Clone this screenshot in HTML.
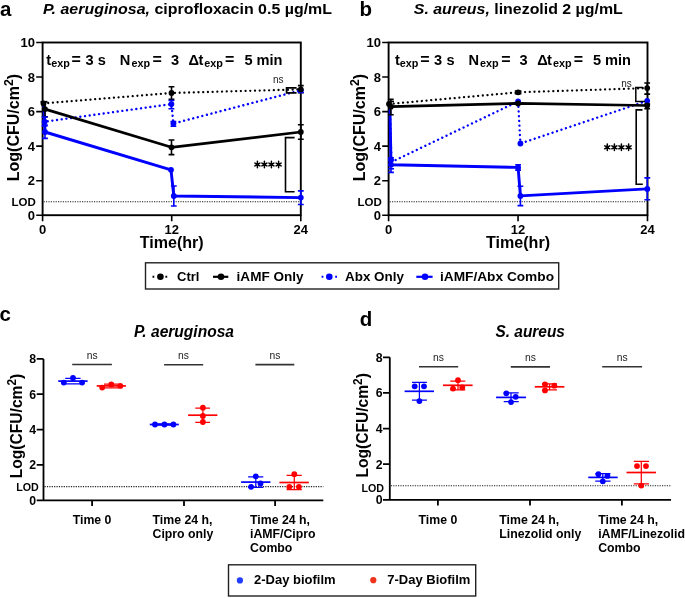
<!DOCTYPE html>
<html><head><meta charset="utf-8">
<style>
html,body{margin:0;padding:0;background:#fff;}
body{width:685px;height:598px;overflow:hidden;position:relative;}
svg{position:absolute;left:0;top:0;will-change:transform;}
text{font-family:"Liberation Sans",sans-serif;white-space:pre;}
.b{font-weight:bold;}
.bi{font-weight:bold;font-style:italic;}
</style></head><body>
<svg width="685" height="598" viewBox="0 0 685 598">
<text id="a_lbl" x="0" y="16.2" class="b" font-size="20.5">a</text>
<text id="a_title" x="43" y="14" class="b" font-size="15.2" textLength="289" lengthAdjust="spacingAndGlyphs"><tspan font-style="italic">P. aeruginosa,</tspan> ciprofloxacin 0.5 µg/mL</text>
<rect x="42.6" y="42.5" width="258.2" height="172.7" fill="none" stroke="#000" stroke-width="1.9"/>
<path d="M36.2,215.2H42.6M36.2,180.7H42.6M36.2,146.1H42.6M36.2,111.6H42.6M36.2,77.0H42.6M36.2,42.5H42.6M42.6,215.2V221.2M171.70000000000002,215.2V221.2M300.8,215.2V221.2" stroke="#000" stroke-width="1.6" fill="none"/>
<text id="a_y10" x="35" y="47.1" class="b" font-size="13" text-anchor="end">10</text>
<text id="a_y8" x="35" y="81.6" class="b" font-size="13" text-anchor="end">8</text>
<text id="a_y6" x="35" y="116.2" class="b" font-size="13" text-anchor="end">6</text>
<text id="a_y4" x="35" y="150.7" class="b" font-size="13" text-anchor="end">4</text>
<text id="a_y2" x="35" y="185.3" class="b" font-size="13" text-anchor="end">2</text>
<text id="a_y0" x="35" y="219.8" class="b" font-size="13" text-anchor="end">0</text>
<text id="a_x0" x="42.6" y="234.4" class="b" font-size="13" text-anchor="middle">0</text>
<text id="a_x12" x="171.7" y="234.4" class="b" font-size="13" text-anchor="middle">12</text>
<text id="a_x24" x="300.8" y="234.4" class="b" font-size="13" text-anchor="middle">24</text>
<text id="a_xt" x="171.7" y="247.6" class="b" font-size="16.3" text-anchor="middle" textLength="64" lengthAdjust="spacingAndGlyphs">Time(hr)</text>
<text id="a_yt" transform="translate(18.8,181.3) rotate(-90)" class="b" font-size="16.5" textLength="107.3" lengthAdjust="spacingAndGlyphs">Log(CFU/cm<tspan font-size="12.5" dy="-5.7">2</tspan><tspan dy="5.7">)</tspan></text>
<text id="a_lod" x="35.8" y="206" class="b" font-size="11.5" text-anchor="end">LOD</text>
<line x1="43.6" y1="201.8" x2="299.8" y2="201.8" stroke="#222" stroke-width="1.1" stroke-dasharray="1.2 1.2"/>
<text id="a_t1" x="46.3" y="64.7" class="b" font-size="14.6">t</text>
<text id="a_e1" x="51.2" y="67.3" class="b" font-size="10.8">exp</text>
<text id="a_q1" x="71.6" y="64.7" class="b" font-size="16">=</text>
<text id="a_n3" x="85.5" y="64.7" class="b" font-size="14.6">3</text>
<text id="a_s" x="97.8" y="64.7" class="b" font-size="14.6">s</text>
<text id="a_N" x="119.8" y="64.7" class="b" font-size="14.6">N</text>
<text id="a_e2" x="131.4" y="67.3" class="b" font-size="10.8">exp</text>
<text id="a_q2" x="152.6" y="64.7" class="b" font-size="16">=</text>
<text id="a_n3b" x="170.9" y="64.7" class="b" font-size="14.6">3</text>
<text id="a_D" x="188.6" y="64.7" class="b" font-size="14.6">Δ</text>
<text id="a_t2" x="198.5" y="64.7" class="b" font-size="14.6">t</text>
<text id="a_e3" x="204.3" y="67.3" class="b" font-size="10.8">exp</text>
<text id="a_q3" x="225.1" y="64.7" class="b" font-size="16">=</text>
<text id="a_n5" x="244.4" y="64.7" class="b" font-size="14.6">5</text>
<text id="a_min" x="256.5" y="64.7" class="b" font-size="14.6">min</text>
<polyline points="43.5,103.4 171.5,93 300.8,89.4" fill="none" stroke="#000" stroke-width="2.3" stroke-dasharray="0.01 4.7" stroke-linecap="round" stroke-linejoin="round"/>
<polyline points="44,106 44.6,121.7 171.4,104.1 173.4,123.5 300.8,90.3" fill="none" stroke="#0000ff" stroke-width="2.4" stroke-dasharray="0.01 4.7" stroke-linecap="round" stroke-linejoin="round"/>
<polyline points="45,109.1 171.5,147.3 300.8,132" fill="none" stroke="#000" stroke-width="2.7" stroke-linejoin="round"/>
<polyline points="44,106 45,132 171,169.8 173.8,196 300.8,197.6" fill="none" stroke="#0000ff" stroke-width="2.9" stroke-linejoin="round"/>
<path d="M171.5,86.7V99.4M168.6,86.7H174.4M168.6,99.4H174.4" stroke="#000" stroke-width="1.6" fill="none"/>
<path d="M45,103V116.7M42.1,116.7H47.9" stroke="#000" stroke-width="1.6" fill="none"/>
<path d="M171.5,140V154.6M168.6,140H174.4M168.6,154.6H174.4" stroke="#000" stroke-width="1.6" fill="none"/>
<path d="M300.8,124.8V139.2M297.90000000000003,124.8H303.7M297.90000000000003,139.2H303.7" stroke="#000" stroke-width="1.6" fill="none"/>
<path d="M300.8,85.6V92.8M297.90000000000003,85.6H303.7M297.90000000000003,92.8H303.7" stroke="#000" stroke-width="1.6" fill="none"/>
<path d="M40.5,101.8H47.5" stroke="#000" stroke-width="1.8"/>
<path d="M44.6,117.1V125.9M41.7,117.1H47.5M41.7,125.9H47.5" stroke="#0000ff" stroke-width="1.6" fill="none"/>
<path d="M45,125V138.4M42.1,125H47.9M42.1,138.4H47.9" stroke="#0000ff" stroke-width="1.6" fill="none"/>
<path d="M171.4,100.5V108.8M168.5,100.5H174.3M168.5,108.8H174.3" stroke="#0000ff" stroke-width="1.6" fill="none"/>
<path d="M173.4,121.5V126.2M170.5,121.5H176.3M170.5,126.2H176.3" stroke="#0000ff" stroke-width="1.6" fill="none"/>
<path d="M173.8,186V206M170.9,186H176.70000000000002M170.9,206H176.70000000000002" stroke="#0000ff" stroke-width="1.6" fill="none"/>
<path d="M300.8,190.9V204.5M297.90000000000003,190.9H303.7M297.90000000000003,204.5H303.7" stroke="#0000ff" stroke-width="1.6" fill="none"/>
<path d="M300.8,88.5V92.5M297.90000000000003,92.5H303.7" stroke="#0000ff" stroke-width="1.6" fill="none"/>
<circle cx="44.6" cy="121.7" r="2.9" fill="#0000ff"/><circle cx="171.4" cy="104.1" r="2.9" fill="#0000ff"/><circle cx="173.4" cy="123.5" r="2.9" fill="#0000ff"/><circle cx="300.8" cy="90.3" r="2.9" fill="#0000ff"/><circle cx="45" cy="132" r="2.9" fill="#0000ff"/><circle cx="171" cy="169.8" r="2.9" fill="#0000ff"/><circle cx="173.8" cy="196" r="2.9" fill="#0000ff"/><circle cx="300.8" cy="197.6" r="2.9" fill="#0000ff"/>
<circle cx="43.5" cy="103.4" r="2.9" fill="#000"/><circle cx="171.5" cy="93" r="2.9" fill="#000"/><circle cx="300.8" cy="89.4" r="2.9" fill="#000"/><circle cx="45" cy="109.1" r="2.9" fill="#000"/><circle cx="171.5" cy="147.3" r="2.9" fill="#000"/><circle cx="300.8" cy="132" r="2.9" fill="#000"/>
<path d="M296.6,87.8H286.6V92.8H296.6" fill="none" stroke="#000" stroke-width="1.8"/>
<text id="a_ns" x="278.3" y="82.8" font-size="10" text-anchor="middle" fill="#222">ns</text>
<path d="M294.6,137.6H285.5V191.8H294.6" fill="none" stroke="#000" stroke-width="1.6"/>
<path d="M257.4,161.30V167.70M254.89,163.05L259.91,165.95M254.89,165.95L259.91,163.05M264.4,161.30V167.70M261.89,163.05L266.91,165.95M261.89,165.95L266.91,163.05M271.4,161.30V167.70M268.89,163.05L273.91,165.95M268.89,165.95L273.91,163.05M278.6,161.30V167.70M276.09,163.05L281.11,165.95M276.09,165.95L281.11,163.05" stroke="#000" stroke-width="1.5" fill="none" stroke-linecap="round"/>
<circle cx="257.4" cy="164.5" r="1.7" fill="#000"/><circle cx="264.4" cy="164.5" r="1.7" fill="#000"/><circle cx="271.4" cy="164.5" r="1.7" fill="#000"/><circle cx="278.6" cy="164.5" r="1.7" fill="#000"/>
<text id="b_lbl" x="359.5" y="16.2" class="b" font-size="20.5">b</text>
<text id="b_title" x="413.8" y="14" class="b" font-size="15.2" textLength="209" lengthAdjust="spacingAndGlyphs"><tspan font-style="italic">S. aureus,</tspan> linezolid 2 µg/mL</text>
<rect x="388.6" y="42.5" width="258.9" height="172.7" fill="none" stroke="#000" stroke-width="1.9"/>
<path d="M382.20000000000005,215.2H388.6M382.20000000000005,180.7H388.6M382.20000000000005,146.1H388.6M382.20000000000005,111.6H388.6M382.20000000000005,77.0H388.6M382.20000000000005,42.5H388.6M388.6,215.2V221.2M518.05,215.2V221.2M647.5,215.2V221.2" stroke="#000" stroke-width="1.6" fill="none"/>
<text id="b_y10" x="381" y="47.1" class="b" font-size="13" text-anchor="end">10</text>
<text id="b_y8" x="381" y="81.6" class="b" font-size="13" text-anchor="end">8</text>
<text id="b_y6" x="381" y="116.2" class="b" font-size="13" text-anchor="end">6</text>
<text id="b_y4" x="381" y="150.7" class="b" font-size="13" text-anchor="end">4</text>
<text id="b_y2" x="381" y="185.3" class="b" font-size="13" text-anchor="end">2</text>
<text id="b_y0" x="381" y="219.8" class="b" font-size="13" text-anchor="end">0</text>
<text id="b_x0" x="388.6" y="234.4" class="b" font-size="13" text-anchor="middle">0</text>
<text id="b_x12" x="518.0" y="234.4" class="b" font-size="13" text-anchor="middle">12</text>
<text id="b_x24" x="647.5" y="234.4" class="b" font-size="13" text-anchor="middle">24</text>
<text id="b_xt" x="518.0" y="247.6" class="b" font-size="16.3" text-anchor="middle" textLength="64" lengthAdjust="spacingAndGlyphs">Time(hr)</text>
<text id="b_yt" transform="translate(364.9,181.3) rotate(-90)" class="b" font-size="16.5" textLength="107.3" lengthAdjust="spacingAndGlyphs">Log(CFU/cm<tspan font-size="12.5" dy="-5.7">2</tspan><tspan dy="5.7">)</tspan></text>
<text id="b_lod" x="381.8" y="206" class="b" font-size="11.5" text-anchor="end">LOD</text>
<line x1="389.6" y1="201.8" x2="646.5" y2="201.8" stroke="#222" stroke-width="1.1" stroke-dasharray="1.2 1.2"/>
<text id="b_t1" x="394.9" y="64.7" class="b" font-size="14.6">t</text>
<text id="b_e1" x="399.8" y="67.3" class="b" font-size="10.8">exp</text>
<text id="b_q1" x="420.2" y="64.7" class="b" font-size="16">=</text>
<text id="b_n3" x="434.1" y="64.7" class="b" font-size="14.6">3</text>
<text id="b_s" x="446.4" y="64.7" class="b" font-size="14.6">s</text>
<text id="b_N" x="468.4" y="64.7" class="b" font-size="14.6">N</text>
<text id="b_e2" x="480.0" y="67.3" class="b" font-size="10.8">exp</text>
<text id="b_q2" x="501.2" y="64.7" class="b" font-size="16">=</text>
<text id="b_n3b" x="519.5" y="64.7" class="b" font-size="14.6">3</text>
<text id="b_D" x="537.2" y="64.7" class="b" font-size="14.6">Δ</text>
<text id="b_t2" x="547.1" y="64.7" class="b" font-size="14.6">t</text>
<text id="b_e3" x="552.9" y="67.3" class="b" font-size="10.8">exp</text>
<text id="b_q3" x="573.7" y="64.7" class="b" font-size="16">=</text>
<text id="b_n5" x="593.0" y="64.7" class="b" font-size="14.6">5</text>
<text id="b_min" x="605.1" y="64.7" class="b" font-size="14.6">min</text>
<polyline points="390,110 391.5,162 518.1,101.4 520.4,143.5 647.2,100.8" fill="none" stroke="#0000ff" stroke-width="2.4" stroke-dasharray="0.01 4.7" stroke-linecap="round" stroke-linejoin="round"/>
<polyline points="390,110 391,164.7 518.1,167.4 520.4,195.9 647.3,188.9" fill="none" stroke="#0000ff" stroke-width="2.9" stroke-linejoin="round"/>
<path d="M391,157.7V160M388.1,157.7H393.9M388.1,160H393.9" stroke="#0000ff" stroke-width="1.6" fill="none"/>
<path d="M391,160V172.4M388.1,172.4H393.9" stroke="#0000ff" stroke-width="1.6" fill="none"/>
<path d="M388.2,168.8H394" stroke="#0000ff" stroke-width="1.6"/>
<path d="M518.1,164.7V170.1M515.2,164.7H521.0M515.2,170.1H521.0" stroke="#0000ff" stroke-width="1.6" fill="none"/>
<path d="M520.4,186.2V205.6M517.5,186.2H523.3M517.5,205.6H523.3" stroke="#0000ff" stroke-width="1.6" fill="none"/>
<path d="M647.3,177.9V199.8M644.4,177.9H650.1999999999999M644.4,199.8H650.1999999999999" stroke="#0000ff" stroke-width="1.6" fill="none"/>
<circle cx="391" cy="160" r="2.9" fill="#0000ff"/><circle cx="518.1" cy="101.4" r="2.9" fill="#0000ff"/><circle cx="520.4" cy="143.5" r="2.9" fill="#0000ff"/><circle cx="647.2" cy="100.8" r="2.9" fill="#0000ff"/><circle cx="391" cy="164.7" r="2.9" fill="#0000ff"/><circle cx="518.1" cy="167.4" r="2.9" fill="#0000ff"/><circle cx="520.4" cy="195.9" r="2.9" fill="#0000ff"/><circle cx="647.3" cy="188.9" r="2.9" fill="#0000ff"/>
<polyline points="389,104 518.1,92.3 647.2,88.1" fill="none" stroke="#000" stroke-width="2.3" stroke-dasharray="0.01 4.7" stroke-linecap="round" stroke-linejoin="round"/>
<polyline points="390.8,106.7 518.1,103.4 647.2,105.5" fill="none" stroke="#000" stroke-width="2.7" stroke-linejoin="round"/>
<path d="M390.8,99.4V114.7M387.90000000000003,99.4H393.7M387.90000000000003,114.7H393.7" stroke="#000" stroke-width="1.6" fill="none"/>
<path d="M647.2,83V94.1M644.3000000000001,83H650.1M644.3000000000001,94.1H650.1" stroke="#000" stroke-width="1.6" fill="none"/>
<path d="M647.2,104.1V108.8M644.3000000000001,104.1H650.1M644.3000000000001,108.8H650.1" stroke="#000" stroke-width="1.6" fill="none"/>
<path d="M518.1,91V93.6M514.8000000000001,91H521.4M514.8000000000001,93.6H521.4" stroke="#000" stroke-width="1.6" fill="none"/>
<path d="M389.5,101.5H394" stroke="#000" stroke-width="1.6"/>
<circle cx="389" cy="104" r="2.9" fill="#000"/><circle cx="518.1" cy="92.3" r="2.9" fill="#000"/><circle cx="647.2" cy="88.1" r="2.9" fill="#000"/><circle cx="390.8" cy="106.7" r="2.9" fill="#000"/><circle cx="518.1" cy="103.4" r="2.9" fill="#000"/><circle cx="647.2" cy="105.5" r="2.9" fill="#000"/>
<path d="M643.2,87.4H635.8V101.4H645" fill="none" stroke="#000" stroke-width="1.5"/>
<text id="b_ns" x="626.5" y="86.6" font-size="10" text-anchor="middle" fill="#222">ns</text>
<path d="M642.5,109.9H636.2V184.2H642.8" fill="none" stroke="#000" stroke-width="1.6"/>
<path d="M607.3,144.10V150.50M604.79,145.85L609.81,148.75M604.79,148.75L609.81,145.85M614.4,144.10V150.50M611.89,145.85L616.91,148.75M611.89,148.75L616.91,145.85M621.4,144.10V150.50M618.89,145.85L623.91,148.75M618.89,148.75L623.91,145.85M628.6,144.10V150.50M626.09,145.85L631.11,148.75M626.09,148.75L631.11,145.85" stroke="#000" stroke-width="1.5" fill="none" stroke-linecap="round"/>
<circle cx="607.3" cy="147.3" r="1.7" fill="#000"/><circle cx="614.4" cy="147.3" r="1.7" fill="#000"/><circle cx="621.4" cy="147.3" r="1.7" fill="#000"/><circle cx="628.6" cy="147.3" r="1.7" fill="#000"/>
<rect x="145.5" y="262.8" width="413.2" height="26.2" fill="none" stroke="#222" stroke-width="1.4"/>
<path d="M152.5,276.8H154.3M165.4,276.8H167.2" stroke="#000" stroke-width="1.9"/>
<circle cx="160.4" cy="276.8" r="3.3" fill="#000"/>
<text id="l_ctrl" x="177" y="281.1" class="b" font-size="13">Ctrl</text>
<line x1="213" y1="276.8" x2="228.3" y2="276.8" stroke="#000" stroke-width="2.2"/>
<circle cx="221" cy="276.8" r="3.3" fill="#000"/>
<text id="l_iamf" x="236.6" y="281.1" class="b" font-size="13" textLength="67" lengthAdjust="spacingAndGlyphs">iAMF Only</text>
<path d="M321.6,276.8H323.4M335.2,276.8H337" stroke="#0000ff" stroke-width="1.9"/>
<circle cx="329.3" cy="276.8" r="3.3" fill="#0000ff"/>
<text id="l_abx" x="345" y="281.1" class="b" font-size="13" textLength="59" lengthAdjust="spacingAndGlyphs">Abx Only</text>
<line x1="416.3" y1="276.8" x2="432.6" y2="276.8" stroke="#0000ff" stroke-width="2.2"/>
<circle cx="425" cy="276.8" r="3.3" fill="#0000ff"/>
<text id="l_combo" x="440" y="281.1" class="b" font-size="13" textLength="114" lengthAdjust="spacingAndGlyphs">iAMF/Abx Combo</text>
<text id="c_lbl" x="-0.5" y="320.8" class="b" font-size="20.5">c</text>
<text id="c_title" x="184" y="336.6" class="bi" font-size="15.6" text-anchor="middle" textLength="100" lengthAdjust="spacingAndGlyphs">P. aeruginosa</text>
<path d="M43.5,358.9V500.3H323.3M36.7,500.3H43.5M36.7,464.9H43.5M36.7,429.6H43.5M36.7,394.2H43.5M36.7,358.9H43.5M92.1,500.3V505.90000000000003M184,500.3V505.90000000000003M275.1,500.3V505.90000000000003" stroke="#000" stroke-width="1.8" fill="none"/>
<text id="c_y8" x="36.2" y="363.2" class="b" font-size="12.3" text-anchor="end">8</text>
<text id="c_y6" x="36.2" y="398.6" class="b" font-size="12.3" text-anchor="end">6</text>
<text id="c_y4" x="36.2" y="433.9" class="b" font-size="12.3" text-anchor="end">4</text>
<text id="c_y2" x="36.2" y="469.2" class="b" font-size="12.3" text-anchor="end">2</text>
<text id="c_y0" x="36.2" y="504.6" class="b" font-size="12.3" text-anchor="end">0</text>
<text id="c_lod" x="38.8" y="490.9" class="b" font-size="10.7" text-anchor="end">LOD</text>
<line x1="44.5" y1="486.6" x2="323.3" y2="486.6" stroke="#222" stroke-width="1.1" stroke-dasharray="1.2 1.2"/>
<text id="c_yt" transform="translate(21.7,478.3) rotate(-90)" class="b" font-size="16.5" textLength="104.5" lengthAdjust="spacingAndGlyphs">Log(CFU/cm<tspan font-size="12.5" dy="-5.6">2</tspan><tspan dy="5.6">)</tspan></text>
<text id="c_xl00" x="92.1" y="524.2" class="b" font-size="12.3" text-anchor="middle">Time 0</text>
<text id="c_xl10" x="152.5" y="524.2" class="b" font-size="12.3">Time 24 h,</text>
<text id="c_xl11" x="152.5" y="538.2" class="b" font-size="12.3">Cipro only</text>
<text id="c_xl20" x="250" y="524.2" class="b" font-size="12.3">Time 24 h,</text>
<text id="c_xl21" x="250" y="538.2" class="b" font-size="12.3">iAMF/Cipro</text>
<text id="c_xl22" x="250" y="552.2" class="b" font-size="12.3">Combo</text>
<text id="d_lbl" x="359.8" y="325.8" class="b" font-size="20.5">d</text>
<text id="d_title" x="530.2" y="336.6" class="bi" font-size="15.6" text-anchor="middle" textLength="69.5" lengthAdjust="spacingAndGlyphs">S. aureus</text>
<path d="M389.8,357.3V499.9H671M383.0,499.9H389.8M383.0,464.2H389.8M383.0,428.6H389.8M383.0,392.9H389.8M383.0,357.3H389.8M437.9,499.9V505.5M530,499.9V505.5M621.9,499.9V505.5" stroke="#000" stroke-width="1.8" fill="none"/>
<text id="d_y8" x="382.7" y="361.6" class="b" font-size="12.3" text-anchor="end">8</text>
<text id="d_y6" x="382.7" y="397.2" class="b" font-size="12.3" text-anchor="end">6</text>
<text id="d_y4" x="382.7" y="432.9" class="b" font-size="12.3" text-anchor="end">4</text>
<text id="d_y2" x="382.7" y="468.6" class="b" font-size="12.3" text-anchor="end">2</text>
<text id="d_y0" x="382.7" y="504.2" class="b" font-size="12.3" text-anchor="end">0</text>
<text id="d_lod" x="384" y="492.1" class="b" font-size="10.7" text-anchor="end">LOD</text>
<line x1="390.8" y1="485.8" x2="671" y2="485.8" stroke="#222" stroke-width="1.1" stroke-dasharray="1.2 1.2"/>
<text id="d_yt" transform="translate(367.9,477.6) rotate(-90)" class="b" font-size="16.5" textLength="104.5" lengthAdjust="spacingAndGlyphs">Log(CFU/cm<tspan font-size="12.5" dy="-5.6">2</tspan><tspan dy="5.6">)</tspan></text>
<text id="d_xl00" x="437.9" y="524.2" class="b" font-size="12.3" text-anchor="middle">Time 0</text>
<text id="d_xl10" x="499.3" y="524.2" class="b" font-size="12.3">Time 24 h,</text>
<text id="d_xl11" x="499.3" y="538.2" class="b" font-size="12.3">Linezolid only</text>
<text id="d_xl20" x="598.2" y="524.2" class="b" font-size="12.3">Time 24 h,</text>
<text id="d_xl21" x="598.2" y="538.2" class="b" font-size="12.3">iAMF/Linezolid</text>
<text id="d_xl22" x="598.2" y="552.2" class="b" font-size="12.3">Combo</text>
<line x1="72.2" y1="364.5" x2="111.9" y2="364.5" stroke="#333" stroke-width="1.6"/>
<text id="c_ns1" x="92.3" y="358.8" font-size="10.3" text-anchor="middle" fill="#222">ns</text>
<line x1="164.1" y1="364.8" x2="203.2" y2="364.8" stroke="#333" stroke-width="1.6"/>
<text id="c_ns2" x="183.5" y="358.8" font-size="10.3" text-anchor="middle" fill="#222">ns</text>
<line x1="255.4" y1="364.6" x2="294.3" y2="364.6" stroke="#333" stroke-width="1.6"/>
<text id="c_ns3" x="275" y="358.8" font-size="10.3" text-anchor="middle" fill="#222">ns</text>
<line x1="419" y1="366.7" x2="458.2" y2="366.7" stroke="#333" stroke-width="1.6"/>
<text id="d_ns1" x="438.5" y="361" font-size="10.3" text-anchor="middle" fill="#222">ns</text>
<line x1="510.8" y1="366.9" x2="550" y2="366.9" stroke="#333" stroke-width="1.6"/>
<text id="d_ns2" x="530.4" y="361" font-size="10.3" text-anchor="middle" fill="#222">ns</text>
<line x1="602.2" y1="366.7" x2="642.1" y2="366.7" stroke="#333" stroke-width="1.6"/>
<text id="d_ns3" x="622.3" y="361" font-size="10.3" text-anchor="middle" fill="#222">ns</text>
<path d="M65.2,378.3H80.6M65.2,383.9H80.6" stroke="#0000ff" stroke-width="1.25" fill="none"/>
<path d="M58.2,381.1H87.6" stroke="#0000ff" stroke-width="1.7" fill="none"/>
<circle cx="63.8" cy="382.6" r="2.9" fill="#0000ff"/><circle cx="73" cy="378" r="2.9" fill="#0000ff"/><circle cx="82.1" cy="382.6" r="2.9" fill="#0000ff"/>
<path d="M104,384H118.6M104,387.8H118.6" stroke="#ff0000" stroke-width="1.25" fill="none"/>
<path d="M96.7,385.9H125.9" stroke="#ff0000" stroke-width="1.7" fill="none"/>
<circle cx="102.2" cy="387.6" r="2.9" fill="#ff0000"/><circle cx="111.3" cy="384.4" r="2.9" fill="#ff0000"/><circle cx="120.3" cy="385.9" r="2.9" fill="#ff0000"/>
<path d="M157,423.8H172M157,425.2H172" stroke="#0000ff" stroke-width="1.25" fill="none"/>
<path d="M149.8,424.5H178.8" stroke="#0000ff" stroke-width="1.7" fill="none"/>
<circle cx="155" cy="424.5" r="2.9" fill="#0000ff"/><circle cx="164.4" cy="424.5" r="2.9" fill="#0000ff"/><circle cx="173.4" cy="424.5" r="2.9" fill="#0000ff"/>
<path d="M195.3,408.1H210M195.3,422.4H210M202.9,408.1V422.4" stroke="#ff0000" stroke-width="1.25" fill="none"/>
<path d="M188.1,415.2H217.4" stroke="#ff0000" stroke-width="1.7" fill="none"/>
<circle cx="202.9" cy="407.7" r="2.9" fill="#ff0000"/><circle cx="202.9" cy="415.9" r="2.9" fill="#ff0000"/><circle cx="202.9" cy="422" r="2.9" fill="#ff0000"/>
<path d="M248.1,476.9H263.3M248.1,487.4H263.3M255.8,476.9V487.4" stroke="#0000ff" stroke-width="1.25" fill="none"/>
<path d="M241.1,482.1H270.4" stroke="#0000ff" stroke-width="1.7" fill="none"/>
<circle cx="251.1" cy="486.8" r="2.9" fill="#0000ff"/><circle cx="255.8" cy="476.3" r="2.9" fill="#0000ff"/><circle cx="260.5" cy="483.5" r="2.9" fill="#0000ff"/>
<path d="M286.6,475.3H301.8M286.6,489.5H301.8M294.3,475.3V489.5" stroke="#ff0000" stroke-width="1.25" fill="none"/>
<path d="M279.4,482.5H308.8" stroke="#ff0000" stroke-width="1.7" fill="none"/>
<circle cx="289.3" cy="486.8" r="2.9" fill="#ff0000"/><circle cx="294.3" cy="474.2" r="2.9" fill="#ff0000"/><circle cx="298.9" cy="486.8" r="2.9" fill="#ff0000"/>
<path d="M412,382.4H426.9M412,400H426.9M419.4,382.4V400" stroke="#0000ff" stroke-width="1.25" fill="none"/>
<path d="M404.6,391.3H434" stroke="#0000ff" stroke-width="1.7" fill="none"/>
<circle cx="414.7" cy="386.3" r="2.9" fill="#0000ff"/><circle cx="424" cy="386.3" r="2.9" fill="#0000ff"/><circle cx="419.4" cy="401.1" r="2.9" fill="#0000ff"/>
<path d="M450.3,381H465.3M450.3,389.8H465.3M458,381V389.8" stroke="#ff0000" stroke-width="1.25" fill="none"/>
<path d="M443,385.3H472.6" stroke="#ff0000" stroke-width="1.7" fill="none"/>
<circle cx="453" cy="388.6" r="2.9" fill="#ff0000"/><circle cx="458" cy="380.2" r="2.9" fill="#ff0000"/><circle cx="462.3" cy="387.4" r="2.9" fill="#ff0000"/>
<path d="M503.7,392.9H518.7M503.7,401.5H518.7M511,392.9V401.5" stroke="#0000ff" stroke-width="1.25" fill="none"/>
<path d="M496.1,397.4H526" stroke="#0000ff" stroke-width="1.7" fill="none"/>
<circle cx="506.3" cy="393.3" r="2.9" fill="#0000ff"/><circle cx="515.7" cy="396.8" r="2.9" fill="#0000ff"/><circle cx="511" cy="402.1" r="2.9" fill="#0000ff"/>
<path d="M542,383.9H557M542,389.8H557M549.6,383.9V389.8" stroke="#ff0000" stroke-width="1.25" fill="none"/>
<path d="M534.8,386.8H564.4" stroke="#ff0000" stroke-width="1.7" fill="none"/>
<circle cx="545" cy="384.3" r="2.9" fill="#ff0000"/><circle cx="545" cy="390.4" r="2.9" fill="#ff0000"/><circle cx="554.3" cy="385.7" r="2.9" fill="#ff0000"/>
<path d="M595.3,473.7H610.5M595.3,481H610.5M602.8,473.7V481" stroke="#0000ff" stroke-width="1.25" fill="none"/>
<path d="M588.3,477.4H617.7" stroke="#0000ff" stroke-width="1.7" fill="none"/>
<circle cx="598.4" cy="474.2" r="2.9" fill="#0000ff"/><circle cx="607.4" cy="475.9" r="2.9" fill="#0000ff"/><circle cx="602.8" cy="481.3" r="2.9" fill="#0000ff"/>
<path d="M633.8,461.3H649M633.8,483.9H649M641.3,461.3V483.9" stroke="#ff0000" stroke-width="1.25" fill="none"/>
<path d="M626.5,472.5H656" stroke="#ff0000" stroke-width="1.7" fill="none"/>
<circle cx="637" cy="466.1" r="2.9" fill="#ff0000"/><circle cx="646" cy="466.1" r="2.9" fill="#ff0000"/><circle cx="641.3" cy="485.6" r="2.9" fill="#ff0000"/>
<rect x="228.5" y="564.8" width="247.2" height="31.2" fill="none" stroke="#222" stroke-width="1.4"/>
<circle cx="239.9" cy="580.4" r="3.1" fill="#1f3cff"/>
<text id="l2_a" x="254" y="584.4" class="b" font-size="13">2-Day biofilm</text>
<circle cx="373.3" cy="580.2" r="3.1" fill="#f0331d"/>
<text id="l2_b" x="387.3" y="584.4" class="b" font-size="13">7-Day Biofilm</text>
</svg>
</body></html>
